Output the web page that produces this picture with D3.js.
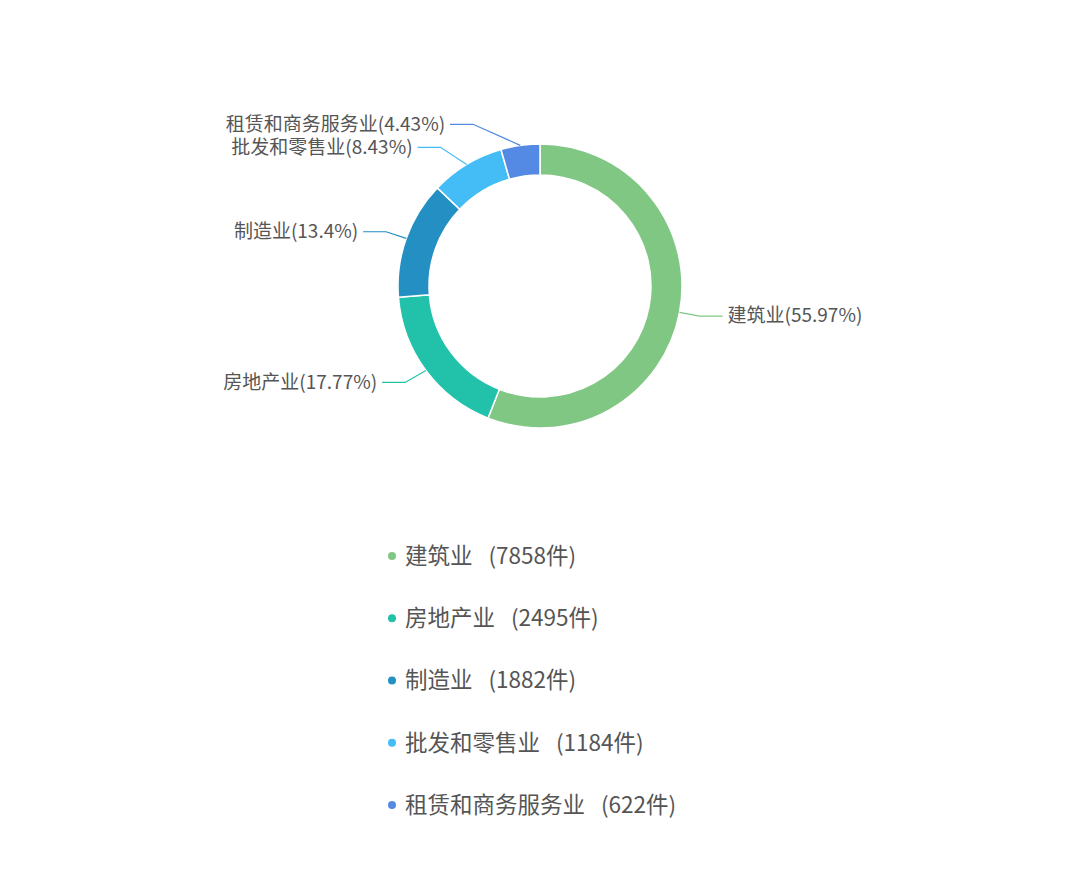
<!DOCTYPE html>
<html>
  <head>
    <meta charset="utf-8">
    <style>
      body { margin: 0; background: #fff; }
      svg { display: block; }
      text { font-family: "Noto Sans CJK SC", "Noto Sans", sans-serif; fill: #555; }
      .lbl { font-size: 19px; }
      .leg { font-size: 22.5px; }
      .link { fill: none; stroke-width: 1.2px; }
    </style>
  </head>
  <body>
    <svg id="chart"></svg>
    <script src="https://cdnjs.cloudflare.com/ajax/libs/d3/7.8.5/d3.min.js"></script>
    <script>
      var categories = ['建筑业', '房地产业', '制造业', '批发和零售业', '租赁和商务服务业'];
      var counts = [7858, 2495, 1882, 1184, 622];
      var colors = ['#81c784', '#21c2a9', '#238fc2', '#44bcf5', '#548ae3'];

      var width = 1080, height = 874,
          cx = 540, cy = 286,
          rOuter = 142, rInner = 111,
          len = 20, len2 = 23, gap = 5, lineH = 23;

      var svg = d3.select('#chart').attr('width', width).attr('height', height);

      var items = categories.map(function(c, i) {
        return { name: c, value: counts[i], color: colors[i] };
      });

      // percentages that add up to 100 (largest remainder, 2 decimals)
      var total = d3.sum(counts), digits = 100;
      var raw = counts.map(function(v) { return v / total * 100 * digits; });
      var seats = raw.map(Math.floor);
      var left = 100 * digits - d3.sum(seats);
      d3.range(raw.length)
        .sort(function(a, b) { return (raw[b] - seats[b]) - (raw[a] - seats[a]); })
        .slice(0, left)
        .forEach(function(i) { seats[i] += 1; });
      items.forEach(function(d, i) { d.pct = seats[i] / digits; });

      var pie = d3.pie().sort(null).value(function(d) { return d.value; });
      var arcs = pie(items);
      var arc = d3.arc().innerRadius(rInner).outerRadius(rOuter);

      var g = svg.append('g').attr('transform', 'translate(' + cx + ',' + cy + ')');

      g.selectAll('path.slice')
        .data(arcs)
        .enter().append('path')
        .attr('class', 'slice')
        .attr('d', arc)
        .attr('fill', function(d) { return d.data.color; })
        .attr('stroke', '#fff')
        .attr('stroke-width', 1.5);

      // label layout, roughly the echarts way
      var labels = arcs.map(function(d) {
        var a = (d.startAngle + d.endAngle) / 2,
            s = Math.sin(a), c = -Math.cos(a);
        return {
          d: d,
          dir: s >= 0 ? 1 : -1,
          p1: [s * rOuter, c * rOuter],
          y: c * (rOuter + len)
        };
      });

      [1, -1].forEach(function(dir) {
        var side = labels.filter(function(l) { return l.dir === dir; });
        var up = side.filter(function(l) { return l.y < 0; }).sort(function(a, b) { return b.y - a.y; });
        var down = side.filter(function(l) { return l.y >= 0; }).sort(function(a, b) { return a.y - b.y; });
        for (var i = 1; i < up.length; i++) {
          if (up[i - 1].y - up[i].y < lineH) up[i].y = up[i - 1].y - lineH;
        }
        for (var j = 1; j < down.length; j++) {
          if (down[j].y - down[j - 1].y < lineH) down[j].y = down[j - 1].y + lineH;
        }
      });

      var R = rOuter + len + len2;
      labels.forEach(function(l) {
        var dy = Math.abs(l.y);
        var dx = dy < rOuter + len ? Math.sqrt(R * R - dy * dy) : Math.abs(l.p1[0]) + len2;
        l.x = dx * l.dir;
        l.mid = [l.x - l.dir * len2, l.y];
      });

      g.selectAll('polyline.link')
        .data(labels)
        .enter().append('polyline')
        .attr('class', 'link')
        .attr('stroke', function(l) { return l.d.data.color; })
        .attr('points', function(l) {
          return [l.p1, l.mid, [l.x, l.y]].map(function(p) { return p.join(','); }).join(' ');
        });

      g.selectAll('text.lbl')
        .data(labels)
        .enter().append('text')
        .attr('class', 'lbl')
        .attr('x', function(l) { return l.x + l.dir * gap; })
        .attr('y', function(l) { return l.y; })
        .attr('dy', '0.33em')
        .attr('text-anchor', function(l) { return l.dir > 0 ? 'start' : 'end'; })
        .text(function(l) { return l.d.data.name + '(' + l.d.data.pct + '%)'; });

      // legend
      var legY = d3.scaleBand().domain(categories).range([525, 836]);
      var leg = svg.append('g').selectAll('g')
        .data(items)
        .enter().append('g')
        .attr('transform', function(d) { return 'translate(392,' + (legY(d.name) + legY.bandwidth() / 2) + ')'; });

      leg.append('circle').attr('r', 4).attr('fill', function(d) { return d.color; });
      var lt = leg.append('text')
        .attr('class', 'leg')
        .attr('x', 13)
        .attr('dy', '0.35em');
      lt.append('tspan').text(function(d) { return d.name; });
      lt.append('tspan').attr('dx', 16).text(function(d) { return '(' + d.value + '件)'; });
    </script>
  </body>
</html>
